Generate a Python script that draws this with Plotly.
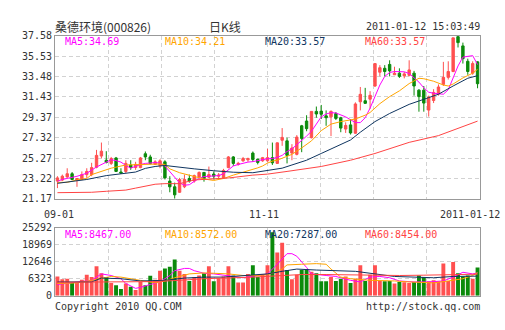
import plotly.graph_objects as go

# ---------------- data ----------------
opens = [22.95, 23.05, 23.37, 23.69, 23.05, 23.11, 23.60, 23.60, 24.34, 25.47,
         25.05, 24.73, 25.28, 23.86, 23.92, 24.57, 24.31, 24.31, 25.70, 25.38,
         24.63, 24.50, 24.89, 22.95, 22.37, 21.82, 22.37, 23.21, 22.95, 23.37,
         23.82, 23.34, 23.66, 23.44, 23.27, 24.31, 25.38, 24.63, 24.99, 25.09,
         25.77, 25.15, 24.99, 24.99, 25.31, 24.73, 27.06, 27.00, 25.77, 25.64,
         28.52, 29.00, 27.32, 29.97, 30.00, 29.52, 29.42, 29.75, 29.33, 28.19,
         28.61, 27.77, 30.94, 31.04, 31.20, 32.53, 33.92, 34.31, 34.70, 33.66,
         33.82, 33.55, 33.60, 33.82, 32.11, 32.11, 30.10, 31.07, 31.72, 32.69,
         33.40, 33.99, 37.50, 36.57, 35.02, 33.82, 34.96]
highs = [23.44, 23.60, 24.24, 23.86, 23.24, 23.92, 24.24, 24.79, 26.09, 26.83,
         25.96, 25.38, 25.38, 24.24, 25.05, 25.05, 24.89, 25.38, 25.93, 25.60,
         25.05, 25.15, 25.05, 23.44, 22.79, 23.27, 23.60, 23.60, 23.60, 23.92,
         23.86, 24.41, 23.92, 23.76, 24.18, 25.47, 25.47, 24.89, 25.38, 25.31,
         25.93, 25.22, 25.38, 26.20, 26.83, 26.85, 28.29, 27.32, 26.67, 27.58,
         28.61, 29.58, 30.00, 30.46, 30.62, 30.07, 30.07, 29.91, 29.42, 28.87,
         29.20, 30.88, 32.43, 32.34, 32.01, 34.79, 34.63, 34.63, 35.12, 34.47,
         34.31, 33.95, 35.12, 34.05, 32.21, 32.53, 31.56, 32.21, 32.69, 34.96,
         35.02, 37.38, 37.58, 36.90, 35.28, 35.02, 35.02]
lows = [22.24, 22.95, 23.27, 23.05, 22.37, 23.05, 23.27, 23.44, 24.24, 25.22,
        24.73, 24.57, 23.86, 23.66, 23.76, 24.08, 24.08, 24.24, 25.05, 24.63,
        24.57, 24.24, 23.11, 21.82, 21.17, 21.75, 22.24, 22.79, 22.79, 23.27,
        22.89, 23.27, 23.11, 23.21, 23.18, 24.24, 24.47, 24.50, 24.89, 24.89,
        24.89, 24.63, 24.89, 24.89, 24.57, 24.67, 26.50, 24.73, 25.05, 25.54,
        25.86, 27.97, 27.25, 29.33, 29.20, 28.52, 27.48, 29.10, 27.87, 27.80,
        27.64, 27.71, 30.07, 30.72, 30.23, 32.43, 33.50, 33.50, 33.50, 33.66,
        33.34, 33.30, 33.50, 31.56, 29.94, 29.94, 29.45, 30.81, 31.56, 32.53,
        33.18, 33.92, 36.41, 34.79, 33.66, 33.66, 32.30]
closes = [23.27, 23.44, 23.69, 23.11, 23.21, 23.60, 23.92, 24.31, 25.54, 25.96,
          24.83, 25.22, 23.92, 23.76, 24.73, 24.31, 24.63, 25.28, 25.38, 24.73,
          24.89, 24.99, 23.27, 22.37, 21.56, 23.11, 23.11, 22.95, 23.50, 23.82,
          23.21, 23.60, 23.44, 23.55, 24.02, 25.38, 24.73, 24.73, 25.22, 25.22,
          25.12, 24.83, 25.31, 25.31, 24.79, 26.80, 27.35, 25.54, 26.28, 27.38,
          27.25, 28.23, 29.97, 29.71, 29.68, 29.33, 29.97, 29.26, 28.29, 28.55,
          27.80, 30.72, 31.69, 30.78, 31.59, 34.79, 34.37, 33.99, 34.05, 33.82,
          33.50, 33.75, 34.15, 32.53, 31.46, 30.81, 31.40, 31.88, 32.43, 33.40,
          33.99, 37.38, 36.90, 35.28, 33.99, 34.79, 32.76]
volumes = [7166, 6093, 6332, 4781, 4781, 5975, 7762, 6928, 10981, 8358,
           6928, 4781, 3947, 2516, 4543, 3351, 2158, 5139, 3947, 7405,
           5975, 9312, 10147, 10743, 13485, 9312, 8120, 5497, 6928, 7523,
           8358, 10981, 5377, 6500, 7166, 10981, 7523, 4901, 4901, 8120,
           11339, 6928, 8120, 11339, 23619, 16108, 19685, 9551, 6093, 7762,
           9551, 9909, 8954, 8358, 5377, 5377, 6928, 5497, 6332, 7166,
           4781, 6332, 11339, 5497, 7762, 11339, 5497, 5377, 5497, 4543,
           5139, 5000, 4781, 5139, 7523, 6928, 5377, 5735, 5377, 11935,
           5497, 12531, 8358, 7166, 7523, 6332, 10505]

# price moving-average lines, read point by point (index, value)
ma5_idx = [0, 1, 4, 6, 8, 10, 11, 12, 13, 14, 15, 17, 18, 20, 21, 22, 23, 24, 25, 26,
           27, 28, 29, 30, 31, 32, 33, 34, 35, 36, 37, 38, 39, 40, 41, 42, 43, 44, 45, 46,
           47, 48, 49, 50, 51, 52, 53, 54, 55, 56, 57, 58, 59, 60, 61, 62, 63, 64, 65, 66,
           67, 68, 69, 70, 71, 72, 73, 74, 75, 76, 77, 78, 79, 80, 81, 82, 83, 84, 85, 86]
ma5_val = [22.92, 23.11, 23.43, 23.74, 24.37, 24.89, 25.10, 25.01, 24.86, 24.52,
           24.25, 24.62, 24.73, 24.81, 24.76, 24.47, 23.89, 23.26, 22.77, 22.53,
           22.58, 22.92, 23.21, 23.40, 23.45, 23.45, 23.50, 23.69, 24.13, 24.47,
           24.62, 24.76, 24.86, 24.91, 25.01, 25.10, 25.20, 25.22, 25.34, 25.54,
           25.93, 26.19, 26.61, 27.00, 27.48, 27.97, 28.74, 29.42, 29.71, 29.84,
           29.81, 29.65, 29.42, 29.13, 28.84, 28.84, 29.33, 30.30, 31.56, 32.63,
           33.50, 33.89, 33.99, 33.99, 33.96, 33.79, 33.40, 32.92, 32.34, 31.90,
           31.80, 31.75, 31.70, 32.15, 33.30, 34.55, 35.44, 35.54, 35.59, 34.69]
ma10_idx = [0, 2, 4, 6, 7, 9, 11, 14, 17, 20, 21, 22, 23, 25, 28, 30, 32, 34, 36, 37,
            39, 41, 42, 43, 44, 45, 46, 48, 50, 52, 54, 56, 58, 60, 61, 63, 64, 66, 68, 70,
            72, 74, 75, 77, 79, 80, 81, 83, 85, 86]
ma10_val = [22.82, 22.82, 23.06, 23.21, 23.60, 23.89, 24.25, 24.57, 24.64, 24.71,
            24.67, 24.62, 24.18, 23.79, 23.40, 23.16, 23.01, 23.21, 23.55, 23.69,
            23.98, 24.28, 24.47, 24.76, 24.96, 25.05, 25.25, 25.64, 26.29, 27.00,
            28.03, 28.69, 28.94, 29.08, 29.20, 29.59, 29.86, 30.75, 31.46, 32.04,
            32.77, 33.31, 33.26, 33.01, 32.63, 32.53, 32.73, 33.34, 33.82, 34.21]
ma20_idx = [0, 3, 6, 10, 14, 16, 18, 20, 22, 25, 28, 32, 36, 40, 43, 46, 48, 51, 54, 57,
            60, 62, 65, 68, 72, 76, 78, 81, 84, 86]
ma20_val = [22.72, 22.95, 23.11, 23.50, 23.69, 23.86, 24.23, 24.42, 24.52, 24.33,
            24.18, 23.99, 23.84, 23.79, 23.99, 24.25, 24.57, 25.05, 25.73, 26.41,
            27.09, 27.87, 28.94, 29.76, 30.68, 31.36, 31.70, 32.53, 33.31, 33.57]
ma60_idx = [0, 7, 10, 14, 16, 18, 20, 22, 25, 28, 35, 40, 43, 47, 54, 60, 65, 72, 78, 86]
ma60_val = [21.78, 21.82, 21.92, 22.04, 22.24, 22.46, 22.63, 22.69, 22.69, 23.06,
            23.26, 23.55, 23.65, 23.92, 24.42, 25.05, 25.73, 26.85, 27.53, 28.99]

# volume moving-average lines (index, value)
vma5_idx = [0, 7, 9, 11, 13, 14, 16, 17, 19, 21, 23, 24, 26, 27, 28, 30, 32, 35, 38, 41,
            43, 45, 47, 48, 49, 51, 52, 55, 57, 60, 62, 64, 66, 68, 70, 73, 76, 79, 81, 83,
            85, 86]
vma5_val = [4185, 5735, 8120, 7523, 6332, 4543, 2754, 3112, 4185, 5139,
            7523, 9312, 10147, 10147, 9312, 8358, 8120, 7523, 6689, 7523,
            8120, 11697, 15631, 15631, 14677, 10505, 8120, 7523, 7166, 5735,
            5139, 6928, 7166, 6689, 5497, 5139, 5139, 5497, 6928, 8717,
            8120, 8467]
vma10_idx = [0, 4, 7, 9, 11, 13, 15, 17, 20, 22, 24, 27, 30, 32, 35, 38, 41, 43, 44, 46,
             47, 50, 53, 55, 56, 58, 60, 64, 67, 69, 72, 75, 77, 80, 83, 85, 86]
vma10_val = [4543, 4781, 5735, 6571, 7166, 6928, 6332, 5497, 4781, 5497,
             6689, 8120, 8478, 8358, 8120, 7523, 7523, 7880, 8358, 9909,
             11457, 11697, 11935, 11697, 9909, 6928, 6332, 5735, 5735, 5497,
             5139, 4781, 4781, 5497, 6332, 7523, 8572]
vma20_idx = [0, 7, 9, 13, 17, 22, 26, 30, 34, 38, 41, 43, 46, 49, 53, 57, 61, 65, 69, 73,
             77, 81, 86]
vma20_val = [5139, 5139, 6571, 6332, 5497, 5735, 6571, 6928, 6928, 7523,
             7880, 8120, 9075, 9909, 9551, 9312, 9075, 8120, 7166, 6928,
             6689, 7166, 7287]
vma60_idx = [0, 10, 20, 25, 30, 40, 45, 50, 55, 60, 65, 70, 75, 80, 86]
vma60_val = [5019, 5139, 5258, 5735, 6332, 6928, 7523, 7880, 7880, 7760,
             7523, 7523, 7640, 7760, 8000]

price_ticks = [21.17, 23.22, 25.27, 27.32, 29.37, 31.43, 33.48, 35.53, 37.58]
volume_ticks = [0, 6323, 12646, 18969, 25292]
x_label_idx = [0, 43, 86]
x_labels = ["09-01", "11-11", "2011-01-12"]

title_name = "桑德环境(000826)"
title_kind = "日K线"
timestamp = "2011-01-12 15:03:49"
price_legend = ["MA5:34.69", "MA10:34.21", "MA20:33.57", "MA60:33.57"]
volume_legend = ["MA5:8467.00", "MA10:8572.00", "MA20:7287.00", "MA60:8454.00"]
footer_left = "Copyright 2010 QQ.COM"
footer_right = "http://stock.qq.com"

# ---------------- styling ----------------
W, H = 505, 330
UP = "#ff5050"
DOWN = "#0b8a0b"
MA_COLORS = ["#ff00ff", "#ffa500", "#0f3560", "#ff4444"]
TXT = "#333333"
MONO = "DejaVu Sans Mono"
CJK = "Noto Sans CJK SC"
GRID = "#d2d2d2"
FRAME = "#999999"

def px(x):
    return x / W

def py(y):
    return 1 - y / H

n = len(closes)
idx = list(range(n))
x_dom = [px(55), px(480)]

fig = go.Figure()

fig.add_trace(go.Candlestick(
    x=idx, open=opens, high=highs, low=lows, close=closes,
    increasing=dict(line=dict(color=UP, width=1), fillcolor=UP),
    decreasing=dict(line=dict(color=DOWN, width=1), fillcolor=DOWN),
    whiskerwidth=0, xaxis="x", yaxis="y", hoverinfo="skip", showlegend=False))

for (ix, vals), col in zip([(ma5_idx, ma5_val), (ma10_idx, ma10_val),
                            (ma20_idx, ma20_val), (ma60_idx, ma60_val)], MA_COLORS):
    fig.add_trace(go.Scatter(x=ix, y=vals, mode="lines", line=dict(color=col, width=1),
                             xaxis="x", yaxis="y", hoverinfo="skip", showlegend=False))

vol_colors = [UP if c >= o else DOWN for o, c in zip(opens, closes)]
fig.add_trace(go.Bar(x=idx, y=volumes, marker=dict(color=vol_colors, line=dict(width=0)),
                     xaxis="x2", yaxis="y2", hoverinfo="skip", showlegend=False))

for (ix, vals), col in zip([(vma5_idx, vma5_val), (vma10_idx, vma10_val),
                            (vma20_idx, vma20_val), (vma60_idx, vma60_val)], MA_COLORS):
    fig.add_trace(go.Scatter(x=ix, y=vals, mode="lines", line=dict(color=col, width=1),
                             xaxis="x2", yaxis="y2", hoverinfo="skip", showlegend=False))

grid_x = [-0.5 + k * n / 8 for k in range(1, 8)]
tickfont = dict(family=MONO, size=10, color=TXT)

xcommon = dict(domain=x_dom, range=[-0.5, n - 0.5], tickvals=grid_x, showticklabels=False,
               ticks="", showgrid=True, gridcolor=GRID, griddash="4px,3px", gridwidth=1,
               zeroline=False, showline=True, linecolor=FRAME, linewidth=1, mirror=True,
               fixedrange=True)

fig.update_layout(
    width=W, height=H, margin=dict(l=0, r=0, t=0, b=0),
    paper_bgcolor="white", plot_bgcolor="white",
    bargap=0.2, showlegend=False,
    xaxis=dict(**xcommon, anchor="y", rangeslider=dict(visible=False)),
    xaxis2=dict(**xcommon, anchor="y2"),
    yaxis=dict(domain=[py(200), py(31)], range=[price_ticks[0], price_ticks[-1]],
               tickvals=price_ticks, ticktext=[f"{v:.2f}" for v in price_ticks],
               tickfont=tickfont, ticks="", showgrid=True, gridcolor=GRID,
               griddash="4px,3px", zeroline=False, showline=True, linecolor=FRAME,
               linewidth=1, mirror=True, anchor="x", fixedrange=True),
    yaxis2=dict(domain=[py(300.7), py(230)], range=[0, volume_ticks[-1]],
                tickvals=volume_ticks, ticktext=[str(v) for v in volume_ticks],
                tickfont=tickfont, ticks="", showgrid=True, gridcolor=GRID,
                griddash="4px,3px", zeroline=False, showline=True, linecolor=FRAME,
                linewidth=1, mirror=True, anchor="x2", fixedrange=True),
)

ann = []
def text(x, y, s, anchor="left", font=None, **kw):
    ann.append(dict(x=x, y=y, xref="paper", yref="paper", text=s, showarrow=False,
                    xanchor=anchor, yanchor="middle", font=font or tickfont,
                    borderpad=0, **kw))

text(px(54), py(21), title_name, font=dict(family=CJK, size=12, color=TXT))
text(px(225), py(21), title_kind, anchor="center", font=dict(family=CJK, size=12, color=TXT))
text(px(481), py(21), timestamp)
for k, (s, col) in enumerate(zip(price_legend, MA_COLORS)):
    text(px(64 + 100 * k), py(37), s, font=dict(family=MONO, size=10, color=col))
for k, (s, col) in enumerate(zip(volume_legend, MA_COLORS)):
    text(px(64 + 100 * k), py(237), s, font=dict(family=MONO, size=10, color=col))
text(px(54), py(312), footer_left)
text(px(481), py(312), footer_right, anchor="right")
ann[2]["xanchor"] = "right"

shifts = [2, -4, -8]
for i, s, sh in zip(x_label_idx, x_labels, shifts):
    ann.append(dict(x=i, y=py(216.5), xref="x", yref="paper", text=s, showarrow=False,
                    xanchor="center", yanchor="middle", font=tickfont, xshift=sh))

fig.update_layout(annotations=ann)
fig.write_html("out.html")
